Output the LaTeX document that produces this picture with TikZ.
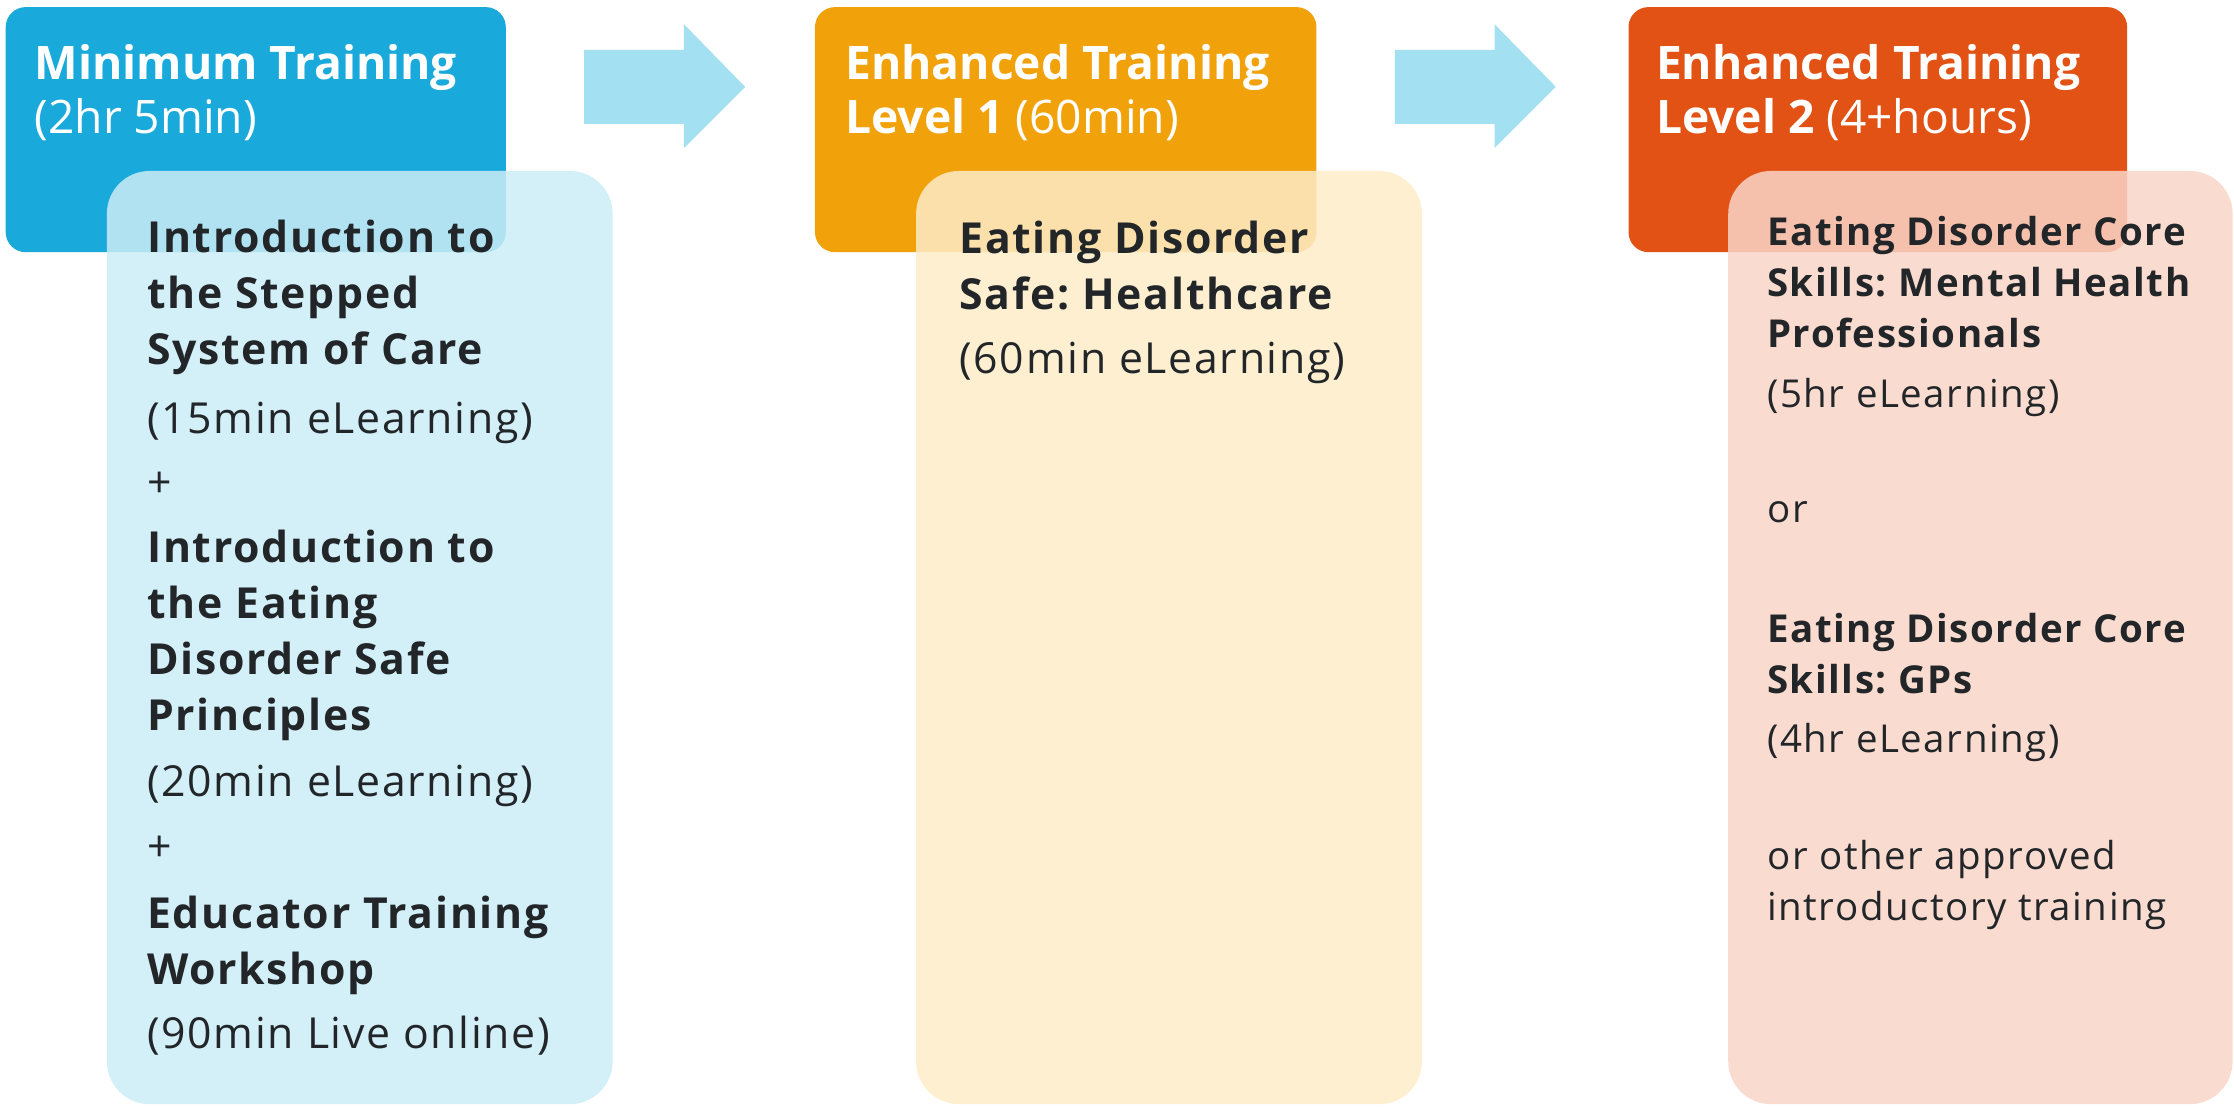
\documentclass[tikz,border=0pt]{standalone}
\usepackage{fontspec}
\setmainfont{Open Sans}
\newfontfamily\bodyfont[LetterSpace=4]{Open Sans}
\usetikzlibrary{positioning}
\frenchspacing

\definecolor{hdrblue}{HTML}{19A9DB}
\definecolor{hdrorange}{HTML}{F1A20B}
\definecolor{hdrred}{HTML}{E25215}
\definecolor{panelblue}{HTML}{CBECF7}
\definecolor{panelyellow}{HTML}{FDECC8}
\definecolor{panelpink}{HTML}{F9D5C8}
\definecolor{arrowblue}{HTML}{A3E0F1}
\definecolor{inkdark}{HTML}{222629}

\tikzset{
  hdrbox/.style={rounded corners=7pt},
  panelbox/.style={rounded corners=15pt, fill opacity=0.85},
  blockarrow/.style={fill=arrowblue},
  hdrtext/.style={anchor=base west, inner sep=0pt, align=left, text=white,
    font=\fontsize{16.2}{19.25}\selectfont},
  bodytext/.style={anchor=base west, inner sep=0pt, align=left, text=inkdark,
    font=\bodyfont\fontsize{15}{19.7}\selectfont},
  smalltext/.style={anchor=base west, inner sep=0pt, align=left, text=inkdark,
    font=\bodyfont\fontsize{13.5}{18}\selectfont}
}

\begin{document}
\begin{tikzpicture}[x=0.5pt,y=0.5pt,yscale=-1,xscale=1]
\useasboundingbox (0,0) rectangle (1568,779);

% Header boxes
\fill [hdrbox, hdrblue] (4,5) rectangle (355,177);
\fill [hdrbox, hdrorange] (572,5) rectangle (924,177);
\fill [hdrbox, hdrred] (1143,5) rectangle (1493,177);

% Panels
\fill [panelbox, panelblue] (75,120) rectangle (430,775);
\fill [panelbox, panelyellow] (643,120) rectangle (998,775);
\fill [panelbox, panelpink] (1213,120) rectangle (1567,775);

% Block arrows
\fill [blockarrow] (410,35) -- (480,35) -- (480,17) -- (523,61) -- (480,104) -- (480,87) -- (410,87) -- cycle;
\fill [blockarrow] (979,35) -- (1049,35) -- (1049,17) -- (1092,61) -- (1049,104) -- (1049,87) -- (979,87) -- cycle;

% Header texts (anchored at the last baseline)
\node [hdrtext] (minhdr) at (24,94) {\textbf{Minimum Training}\\(2hr 5min)};
\node [hdrtext] (enhonehdr) at (593,94) {\textbf{Enhanced Training}\\\textbf{Level 1} (60min)};
\node [hdrtext] (enhtwohdr) at (1162,94) {\textbf{Enhanced Training}\\\textbf{Level 2} (4+hours)};

% Minimum training panel
\node [bodytext] (stepped) at (103,256) {\textbf{Introduction to}\\\textbf{the Stepped}\\\textbf{System of Care}};
\node [bodytext] (steppedtime) at (103,304) {(15min eLearning)};
\node [bodytext] (plusone) at (103,349) {+};
\node [bodytext] (principles) at (103,513) {\textbf{Introduction to}\\\textbf{the Eating}\\\textbf{Disorder Safe}\\\textbf{Principles}};
\node [bodytext] (principlestime) at (103,559) {(20min eLearning)};
\node [bodytext] (plustwo) at (103,605) {+};
\node [bodytext] (workshop) at (103,691) {\textbf{Educator Training}\\\textbf{Workshop}};
\node [bodytext] (workshoptime) at (103,736) {(90min Live online)};

% Level 1 panel
\node [bodytext] (safe) at (673,217) {\textbf{Eating Disorder}\\\textbf{Safe: Healthcare}};
\node [bodytext] (safetime) at (673,262) {(60min eLearning)};

% Level 2 panel
\node [smalltext] (mhp) at (1240,244) {\textbf{Eating Disorder Core}\\\textbf{Skills: Mental Health}\\\textbf{Professionals}};
\node [smalltext] (mhptime) at (1240,286) {(5hr eLearning)};
\node [smalltext] (orone) at (1240,367) {or};
\node [smalltext] (gps) at (1240,487) {\textbf{Eating Disorder Core}\\\textbf{Skills: GPs}};
\node [smalltext] (gpstime) at (1240,528) {(4hr eLearning)};
\node [smalltext] (other) at (1240,646) {or other approved\\introductory training};
\end{tikzpicture}
\end{document}
